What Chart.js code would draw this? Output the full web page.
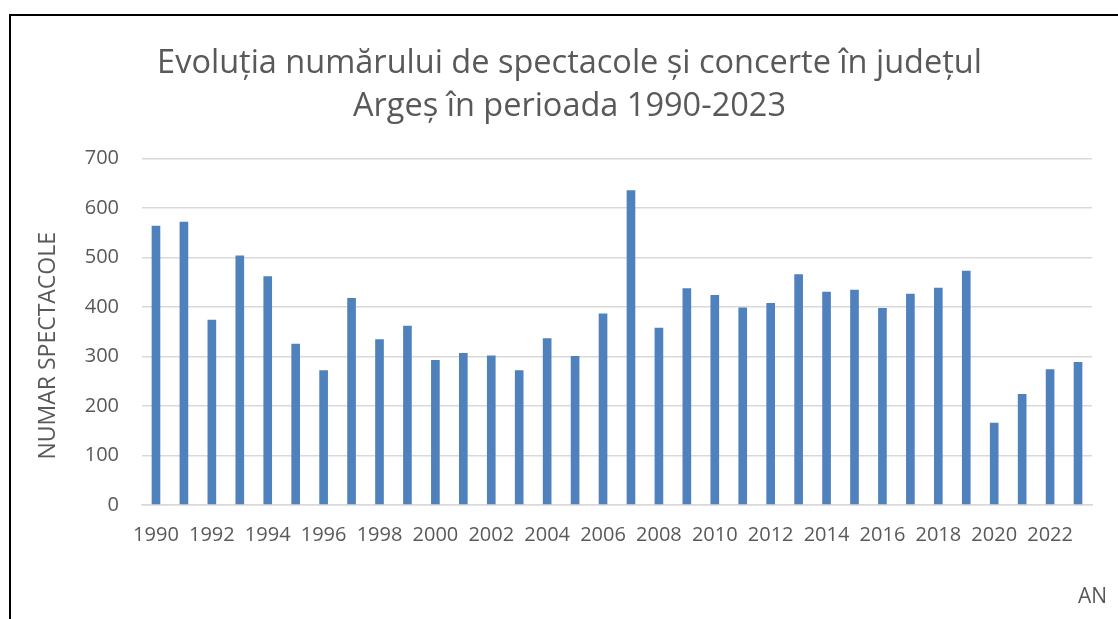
<!DOCTYPE html>
<html lang="ro">
<head>
<meta charset="utf-8">
<title>Spectacole și concerte Argeș 1990-2023</title>
<script src="https://cdn.jsdelivr.net/npm/chart.js@4/dist/chart.umd.min.js"></script>
<style>
  html, body { margin: 0; padding: 0; background: #fff; overflow: hidden; }
  #frame {
    position: absolute; left: 9px; top: 14px;
    width: 1200px; height: 700px;
    border: 2px solid #000;
  }
  #chart { position: absolute; left: 0; top: 0; }
</style>
</head>
<body>
<div id="frame"></div>
<canvas id="chart" width="1118" height="619"></canvas>
<script>
const years = [
  "1990", "1991", "1992", "1993", "1994", "1995", "1996", "1997", "1998", "1999",
  "2000", "2001", "2002", "2003", "2004", "2005", "2006", "2007", "2008", "2009",
  "2010", "2011", "2012", "2013", "2014", "2015", "2016", "2017", "2018", "2019",
  "2020", "2021", "2022", "2023"
];
const spectacole = [
  564, 572, 374, 504, 462, 326, 272, 418, 335, 362,
  293, 307, 302, 272, 337, 301, 387, 636, 358, 438,
  424, 399, 408, 466, 431, 435, 398, 427, 439, 473,
  166, 224, 274, 289
];
const yTicks = [0, 100, 200, 300, 400, 500, 600, 700];

const titleLines = [
  "Evoluția numărului de spectacole și concerte în județul",
  "Argeș în perioada 1990-2023"
];

const textColor = "#595959";
const gridColor = "#d9d9d9";
const fontFamily = "'Open Sans', 'Noto Sans', sans-serif";

// axis names sit a bit off the scale boxes, so they are drawn here
const axisNames = {
  id: "axisNames",
  afterDraw(chart) {
    const { ctx, chartArea } = chart;
    ctx.save();
    ctx.fillStyle = textColor;
    ctx.textBaseline = "middle";

    ctx.font = `21px ${fontFamily}`;
    ctx.textAlign = "right";
    ctx.fillText("AN", chartArea.right + 15, 597);

    ctx.font = `23px ${fontFamily}`;
    ctx.textAlign = "center";
    ctx.translate(48, (chartArea.top + chartArea.bottom) / 2 + 14);
    ctx.rotate(-Math.PI / 2);
    ctx.fillText("NUMAR SPECTACOLE", 0, 0);
    ctx.restore();
  },
};

new Chart(document.getElementById("chart"), {
  type: "bar",
  data: {
    labels: years,
    datasets: [{
      label: "NUMAR SPECTACOLE",
      data: spectacole,
      backgroundColor: "#4f81bd",
      borderWidth: 0,
      categoryPercentage: 1,
      barPercentage: 0.31,
    }],
  },
  options: {
    responsive: false,
    animation: false,
    layout: { padding: { left: 47, right: 26, top: 43, bottom: 10 } },
    plugins: {
      legend: { display: false },
      tooltip: { enabled: false },
      title: {
        display: true,
        text: titleLines,
        color: textColor,
        font: { family: fontFamily, size: 32.5, weight: "normal", lineHeight: 1.3 },
        padding: { top: 0, bottom: 31 },
      },
    },
    scales: {
      x: {
        grid: { display: false, drawTicks: false },
        border: { display: true, color: gridColor, width: 1.5 },
        ticks: {
          autoSkip: false,
          maxRotation: 0,
          padding: 18,
          color: textColor,
          font: { family: fontFamily, size: 20 },
          // every second year is labelled
          callback: (value, index) => (index % 2 === 0 ? years[index] : ""),
        },
        afterFit: (scale) => { scale.height = 104; },
      },
      y: {
        min: 0,
        max: 700,
        afterBuildTicks: (scale) => {
          scale.ticks = yTicks.map(v => ({ value: v }));
        },
        grid: { color: gridColor, lineWidth: 1.5, drawTicks: false },
        border: { display: false },
        ticks: {
          padding: 23,
          color: textColor,
          font: { family: fontFamily, size: 20 },
        },
        afterFit: (scale) => { scale.width = 95; },
      },
    },
  },
  plugins: [axisNames],
});
</script>
</body>
</html>
